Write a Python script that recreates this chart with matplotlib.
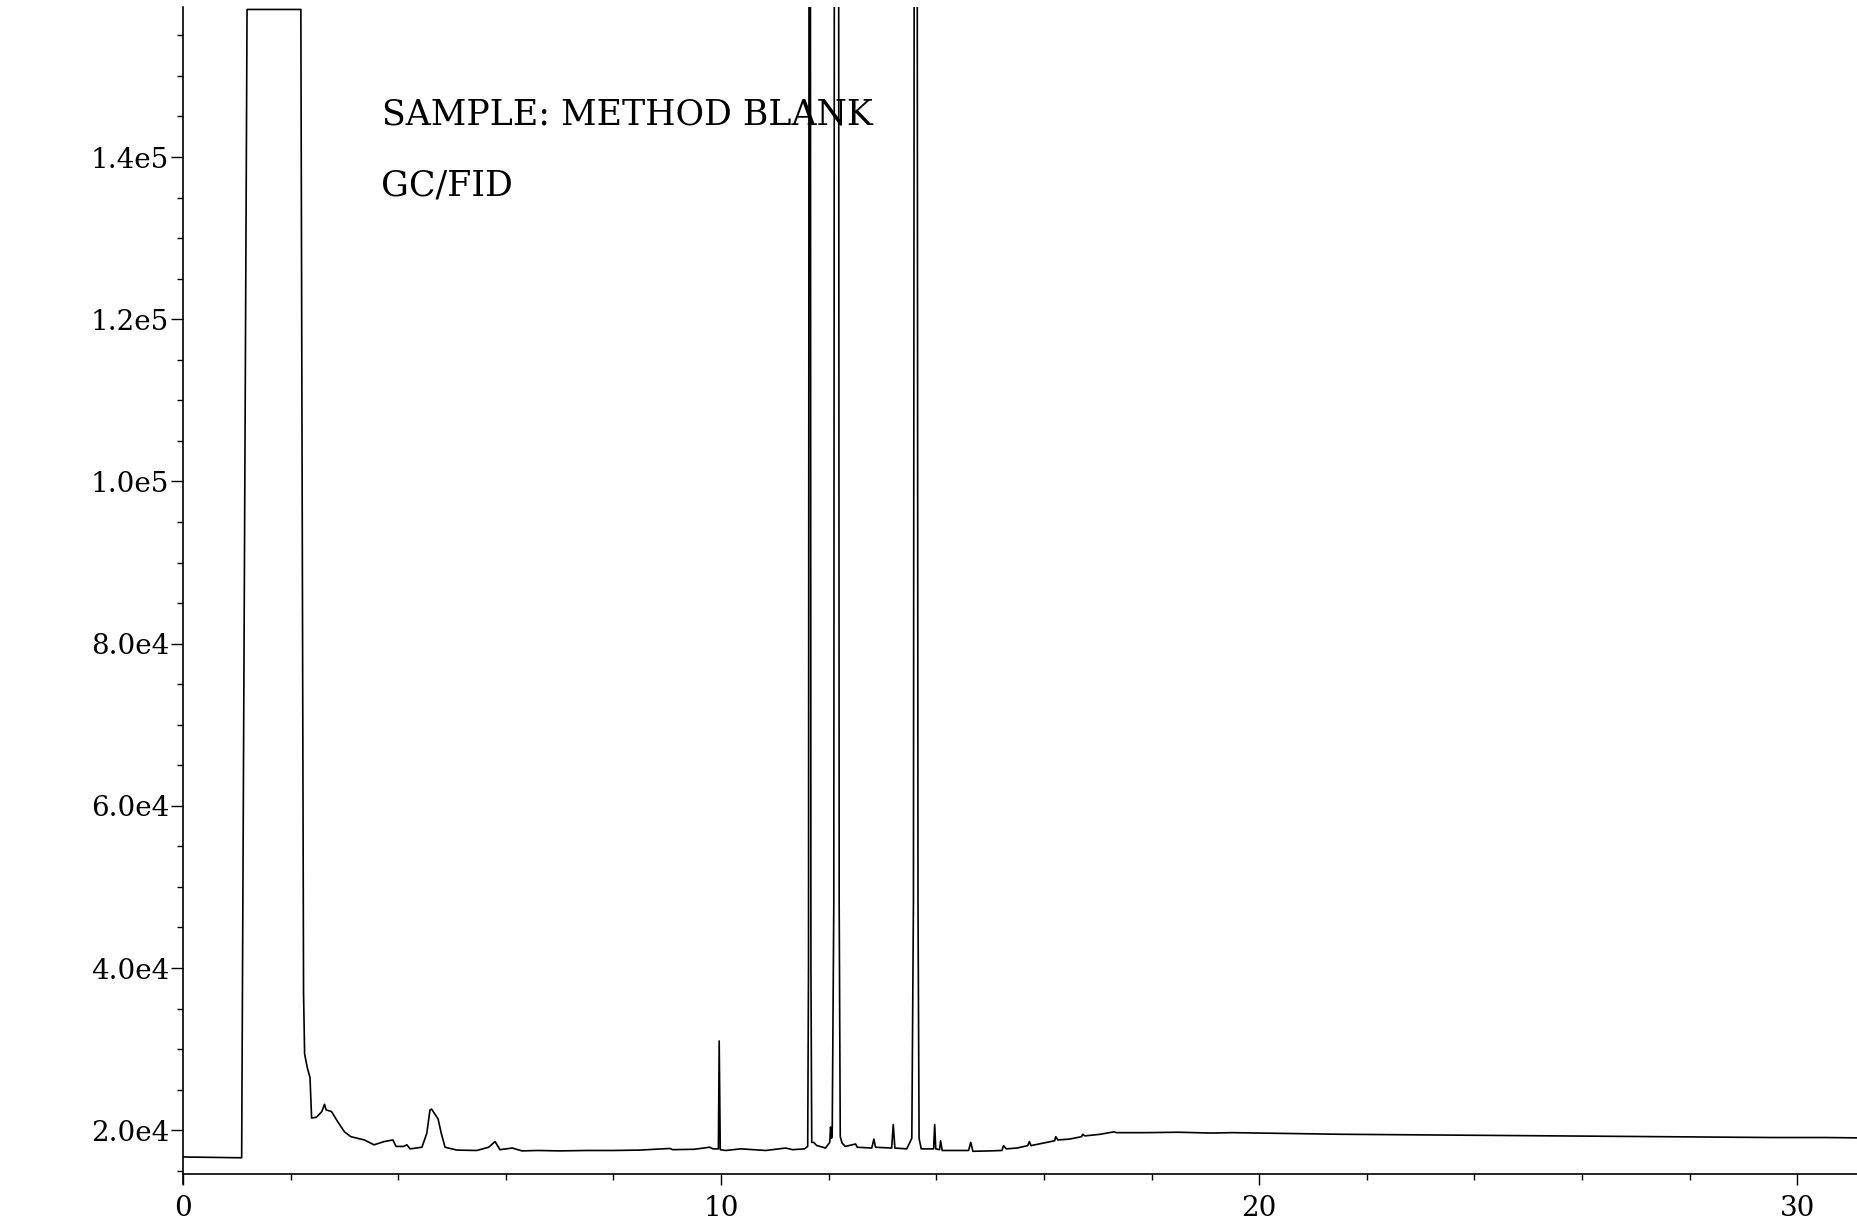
import matplotlib.pyplot as plt
import numpy as np

# Retention time (min) and detector signal
retention_time = [
	0.00, 1.09, 1.19, 2.19, 2.24, 2.26, 2.31, 2.36, 2.39, 2.48, 2.58, 2.63, 2.66, 2.76, 2.88,
	3.00, 3.12, 3.37, 3.55, 3.74, 3.90, 3.96, 4.10, 4.16, 4.22, 4.44, 4.53, 4.59, 4.62, 4.74,
	4.80, 4.87, 5.09, 5.46, 5.68, 5.80, 5.89, 6.12, 6.30, 6.60, 7.00, 7.50, 8.00, 8.50, 9.05,
	9.10, 9.50, 9.79, 9.85, 9.95, 9.965, 9.985, 10.08, 10.37, 10.83, 11.20, 11.33, 11.55,
	11.61, 11.625, 11.635, 11.66, 11.67, 11.685, 11.72, 11.78, 11.84, 11.94, 12.02, 12.035, 12.05,
	12.065, 12.095, 12.105, 12.185, 12.195, 12.215, 12.25, 12.31, 12.50, 12.53, 12.80, 12.84, 12.87,
	13.17, 13.20, 13.23, 13.45, 13.545, 13.575, 13.59, 13.645, 13.66, 13.68, 13.72, 13.95, 13.97,
	13.99, 14.06, 14.08, 14.11, 14.60, 14.64, 14.68, 15.00, 15.22, 15.25, 15.30, 15.50,
	15.70, 15.73, 15.76, 15.98, 16.20, 16.22, 16.26, 16.47, 16.70, 16.72, 16.76, 17.05,
	17.30, 17.35, 17.90, 18.50, 19.10, 19.50, 20.50, 21.50, 22.50, 23.50, 24.50, 25.50,
	26.50, 27.50, 28.50, 29.50, 30.50, 31.20,
]
signal = [
	16700, 16600, 158200, 158200, 37000, 29400, 27700, 26500, 21500, 21600, 22300, 23200, 22500, 22300, 21000,
	19800, 19200, 18800, 18200, 18600, 18800, 18000, 18000, 18200, 17700, 17900, 19600, 22500, 22600, 21400,
	19600, 17900, 17550, 17500, 17900, 18600, 17600, 17800, 17450, 17500, 17450, 17500, 17500, 17550, 17750,
	17600, 17650, 17900, 17700, 17700, 31000, 17600, 17500, 17700, 17500, 17800, 17600, 17700,
	18000, 40000, 170000, 170000, 40000, 18500, 18500, 18100, 18000, 17800, 18500, 20400, 19000,
	19200, 48000, 170000, 170000, 48000, 19200, 18400, 18000, 18300, 17900, 17800, 18900, 17900,
	17800, 20700, 17800, 17700, 19000, 48000, 170000, 170000, 48000, 19000, 17700, 17700, 20700,
	17700, 17600, 18700, 17500, 17500, 18500, 17400, 17450, 17500, 18100, 17700, 17800,
	18100, 18600, 18100, 18400, 18700, 19200, 18800, 18900, 19200, 19500, 19300, 19500,
	19800, 19700, 19700, 19750, 19650, 19700, 19600, 19500, 19450, 19400, 19350, 19300,
	19250, 19200, 19150, 19100, 19100, 19050,
]

# Axis ticks as printed on the chart
y_major = [20000, 40000, 60000, 80000, 100000, 120000, 140000]
y_labels = ['2.0e4', '4.0e4', '6.0e4', '8.0e4', '1.0e5', '1.2e5', '1.4e5']
y_minor = [15000, 25000, 30000, 35000, 45000, 50000, 55000, 65000, 70000, 75000, 85000, 90000,
	95000, 105000, 110000, 115000, 125000, 130000, 135000, 145000, 150000, 155000]
x_major = [0, 10, 20, 30]
x_labels = ['0', '10', '20', '30']
x_minor = [2, 4, 6, 8, 12, 14, 16, 18, 22, 24, 26, 28]

title_lines = ['SAMPLE: METHOD BLANK', 'GC/FID']

fig = plt.figure(figsize=(18.58, 12.31), dpi=100)
ax = fig.add_axes([0.0985, 0.0382, 0.9015, 0.9561])

ax.plot(retention_time, signal, color='black', linewidth=1.2)
ax.set_xlim(0, 31.13)
ax.set_ylim(13370, 158500)

# Only the left and bottom axes are drawn; the time axis sits at 1.46e4
for side in ['top', 'right']:
	ax.spines[side].set_visible(False)
ax.spines['bottom'].set_position(('data', 14600))
ax.spines['left'].set_linewidth(1.2)
ax.spines['bottom'].set_linewidth(1.2)

label_font = {'family': 'DejaVu Serif', 'size': 20}
ax.set_yticks(y_major)
ax.set_yticklabels(y_labels, fontdict=label_font)
ax.set_yticks(y_minor, minor=True)
ax.set_xticks(x_major)
ax.set_xticklabels(x_labels, fontdict=label_font)
ax.set_xticks(x_minor, minor=True)
ax.tick_params(axis='y', which='major', direction='out', length=9, width=1.0, pad=1)
ax.tick_params(axis='y', which='minor', direction='out', length=4, width=1.0)
ax.tick_params(axis='x', which='major', direction='out', length=8, width=1.0, pad=7)
ax.tick_params(axis='x', which='minor', direction='out', length=4.5, width=1.0)

fig.text(0.2056, 0.9066, title_lines[0], family='DejaVu Serif', fontsize=25, va='center', ha='left')
fig.text(0.2050, 0.8497, title_lines[1], family='DejaVu Serif', fontsize=25, va='center', ha='left')

plt.savefig('out.png', dpi=100, facecolor='white')
plt.close()
